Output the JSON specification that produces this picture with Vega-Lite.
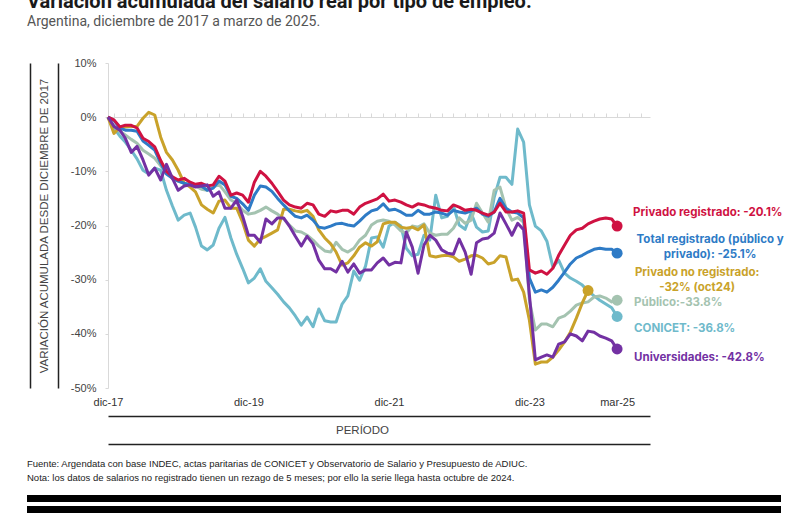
{
  "$schema": "https://vega.github.io/schema/vega-lite/v6.json",
  "autosize": {"type": "pad"},
  "padding": {"left": 27, "top": -8, "right": 0, "bottom": 0},
  "background": "white",
  "title": {
    "text": "Variación acumulada del salario real por tipo de empleo.",
    "subtitle": "Argentina, diciembre de 2017 a marzo de 2025.",
    "anchor": "start",
    "frame": "bounds",
    "font": "Roboto",
    "fontSize": 20,
    "fontWeight": "bold",
    "color": "#1a1a1a",
    "subtitleFont": "Roboto",
    "subtitleFontSize": 14,
    "subtitleColor": "#555555",
    "subtitlePadding": 3,
    "offset": 28
  },
  "config": {
    "font": "Liberation Sans",
    "view": {"stroke": null}
  },
  "spacing": 14,
  "vconcat": [
    {
      "width": 754,
      "height": 325,
      "data": {
        "values": [
          {"fecha":"2017-12-01","priv_reg":0,"total_reg":0,"priv_noreg":0,"publico":0,"conicet":0,"univ":0},
          {"fecha":"2018-01-01","priv_reg":-0.5,"total_reg":-0.6,"priv_noreg":-3,"publico":-1.7,"conicet":-2,"univ":-1.7},
          {"fecha":"2018-02-01","priv_reg":-1.8,"total_reg":-2,"priv_noreg":-1.8,"publico":-2.6,"conicet":-3.5,"univ":-2.4},
          {"fecha":"2018-03-01","priv_reg":-1.5,"total_reg":-2.4,"priv_noreg":-1.8,"publico":-3.3,"conicet":-4.6,"univ":-3.9},
          {"fecha":"2018-04-01","priv_reg":-1.5,"total_reg":-2.4,"priv_noreg":-1.7,"publico":-4.1,"conicet":-6.1,"univ":-6.5},
          {"fecha":"2018-05-01","priv_reg":-2,"total_reg":-2.6,"priv_noreg":-1.7,"publico":-4.8,"conicet":-7.7,"univ":-5.4},
          {"fecha":"2018-06-01","priv_reg":-3.9,"total_reg":-4.4,"priv_noreg":-0.2,"publico":-6.1,"conicet":-9.8,"univ":-7.9},
          {"fecha":"2018-07-01","priv_reg":-4.5,"total_reg":-5.2,"priv_noreg":0.9,"publico":-6.8,"conicet":-10.5,"univ":-10.7},
          {"fecha":"2018-08-01","priv_reg":-5.5,"total_reg":-6.1,"priv_noreg":0.4,"publico":-7.6,"conicet":-9.4,"univ":-9.4},
          {"fecha":"2018-09-01","priv_reg":-8,"total_reg":-8.5,"priv_noreg":-3.7,"publico":-9,"conicet":-9.8,"univ":-11.6},
          {"fecha":"2018-10-01","priv_reg":-10,"total_reg":-10.5,"priv_noreg":-6.5,"publico":-10.1,"conicet":-13.5,"univ":-8.7},
          {"fecha":"2018-11-01","priv_reg":-11,"total_reg":-11.3,"priv_noreg":-7.9,"publico":-11.3,"conicet":-16.4,"univ":-11.3},
          {"fecha":"2018-12-01","priv_reg":-11.6,"total_reg":-11.8,"priv_noreg":-9.8,"publico":-11.8,"conicet":-19,"univ":-13.5},
          {"fecha":"2019-01-01","priv_reg":-11.3,"total_reg":-12.2,"priv_noreg":-12.2,"publico":-12.2,"conicet":-18.1,"univ":-12.7},
          {"fecha":"2019-02-01","priv_reg":-12,"total_reg":-12.5,"priv_noreg":-12.9,"publico":-12.4,"conicet":-17.7,"univ":-12.5},
          {"fecha":"2019-03-01","priv_reg":-12.4,"total_reg":-12.7,"priv_noreg":-13.8,"publico":-12.7,"conicet":-20.3,"univ":-12.9},
          {"fecha":"2019-04-01","priv_reg":-12.2,"total_reg":-12.7,"priv_noreg":-16.2,"publico":-13.3,"conicet":-23.8,"univ":-12.7},
          {"fecha":"2019-05-01","priv_reg":-12.7,"total_reg":-13.5,"priv_noreg":-17,"publico":-13.5,"conicet":-24.5,"univ":-12.5},
          {"fecha":"2019-06-01","priv_reg":-12.5,"total_reg":-13.1,"priv_noreg":-17.7,"publico":-12.9,"conicet":-23.6,"univ":-14.6},
          {"fecha":"2019-07-01","priv_reg":-10.9,"total_reg":-11.8,"priv_noreg":-15.5,"publico":-12.4,"conicet":-20.5,"univ":-13.8},
          {"fecha":"2019-08-01","priv_reg":-11.8,"total_reg":-12.5,"priv_noreg":-15.3,"publico":-13.8,"conicet":-18.5,"univ":-16.8},
          {"fecha":"2019-09-01","priv_reg":-14.4,"total_reg":-14.6,"priv_noreg":-16.8,"publico":-15.3,"conicet":-22.3,"univ":-16.8},
          {"fecha":"2019-10-01","priv_reg":-14,"total_reg":-15,"priv_noreg":-16.8,"publico":-15.9,"conicet":-25.3,"univ":-15.3},
          {"fecha":"2019-11-01","priv_reg":-14.4,"total_reg":-16,"priv_noreg":-19.4,"publico":-17.2,"conicet":-27.9,"univ":-18.3},
          {"fecha":"2019-12-01","priv_reg":-15.7,"total_reg":-17.2,"priv_noreg":-22.7,"publico":-17.9,"conicet":-30.6,"univ":-21.8},
          {"fecha":"2020-01-01","priv_reg":-12,"total_reg":-14.4,"priv_noreg":-23.8,"publico":-17.7,"conicet":-29.7,"univ":-21.8},
          {"fecha":"2020-02-01","priv_reg":-10,"total_reg":-12.7,"priv_noreg":-22.5,"publico":-17.2,"conicet":-28,"univ":-23.1},
          {"fecha":"2020-03-01","priv_reg":-10.9,"total_reg":-12.9,"priv_noreg":-22,"publico":-16.6,"conicet":-30.3,"univ":-18.8},
          {"fecha":"2020-04-01","priv_reg":-12.2,"total_reg":-13.7,"priv_noreg":-21.4,"publico":-17.3,"conicet":-31.5,"univ":-19.7},
          {"fecha":"2020-05-01","priv_reg":-13.7,"total_reg":-15,"priv_noreg":-20.8,"publico":-17.9,"conicet":-32.7,"univ":-18.6},
          {"fecha":"2020-06-01","priv_reg":-15.3,"total_reg":-16.2,"priv_noreg":-17,"publico":-18.8,"conicet":-34.1,"univ":-18.6},
          {"fecha":"2020-07-01","priv_reg":-16.2,"total_reg":-17.3,"priv_noreg":-17,"publico":-19.9,"conicet":-35.2,"univ":-20.1},
          {"fecha":"2020-08-01","priv_reg":-16.6,"total_reg":-18.3,"priv_noreg":-17.3,"publico":-21,"conicet":-36.7,"univ":-22},
          {"fecha":"2020-09-01","priv_reg":-16.8,"total_reg":-18.6,"priv_noreg":-17.5,"publico":-21.2,"conicet":-38.4,"univ":-23.8},
          {"fecha":"2020-10-01","priv_reg":-15.9,"total_reg":-18.1,"priv_noreg":-17.2,"publico":-21.8,"conicet":-36.9,"univ":-22},
          {"fecha":"2020-11-01","priv_reg":-16.2,"total_reg":-19,"priv_noreg":-18.3,"publico":-22.7,"conicet":-38.7,"univ":-23.4},
          {"fecha":"2020-12-01","priv_reg":-17.9,"total_reg":-20.3,"priv_noreg":-20.8,"publico":-23.8,"conicet":-35.4,"univ":-26.4},
          {"fecha":"2021-01-01","priv_reg":-18.3,"total_reg":-20.5,"priv_noreg":-22.3,"publico":-24.7,"conicet":-37.6,"univ":-28},
          {"fecha":"2021-02-01","priv_reg":-17.3,"total_reg":-20.1,"priv_noreg":-23.4,"publico":-24.9,"conicet":-37.8,"univ":-28},
          {"fecha":"2021-03-01","priv_reg":-17.5,"total_reg":-19.7,"priv_noreg":-24.9,"publico":-23.1,"conicet":-37.8,"univ":-28.6},
          {"fecha":"2021-04-01","priv_reg":-17.2,"total_reg":-19.6,"priv_noreg":-27.3,"publico":-24.4,"conicet":-34.5,"univ":-26.6},
          {"fecha":"2021-05-01","priv_reg":-17.2,"total_reg":-19.9,"priv_noreg":-26.9,"publico":-24.9,"conicet":-33,"univ":-28.6},
          {"fecha":"2021-06-01","priv_reg":-17.9,"total_reg":-20.1,"priv_noreg":-25.6,"publico":-24.2,"conicet":-28.4,"univ":-27.1},
          {"fecha":"2021-07-01","priv_reg":-16.6,"total_reg":-19.2,"priv_noreg":-24,"publico":-22.7,"conicet":-30.1,"univ":-28.8},
          {"fecha":"2021-08-01","priv_reg":-15.9,"total_reg":-18.1,"priv_noreg":-23.2,"publico":-21.8,"conicet":-27.5,"univ":-28.2},
          {"fecha":"2021-09-01","priv_reg":-15.5,"total_reg":-17.3,"priv_noreg":-23.8,"publico":-19.9,"conicet":-22.3,"univ":-28.2},
          {"fecha":"2021-10-01","priv_reg":-15.1,"total_reg":-17,"priv_noreg":-23,"publico":-19.2,"conicet":-22.1,"univ":-26.9},
          {"fecha":"2021-11-01","priv_reg":-14.2,"total_reg":-16,"priv_noreg":-19.7,"publico":-19,"conicet":-24,"univ":-26},
          {"fecha":"2021-12-01","priv_reg":-15.5,"total_reg":-17.2,"priv_noreg":-19.4,"publico":-19.2,"conicet":-20.1,"univ":-27.3},
          {"fecha":"2022-01-01","priv_reg":-15.3,"total_reg":-17,"priv_noreg":-19.4,"publico":-19.9,"conicet":-19.4,"univ":-26.8},
          {"fecha":"2022-02-01","priv_reg":-15.7,"total_reg":-17.5,"priv_noreg":-20.3,"publico":-21,"conicet":-20.1,"univ":-26.9},
          {"fecha":"2022-03-01","priv_reg":-16.2,"total_reg":-18.1,"priv_noreg":-20.5,"publico":-21.4,"conicet":-24.2,"univ":-21.2},
          {"fecha":"2022-04-01","priv_reg":-16.6,"total_reg":-18.1,"priv_noreg":-20.3,"publico":-20.1,"conicet":-25.6,"univ":-24},
          {"fecha":"2022-05-01","priv_reg":-16,"total_reg":-17.2,"priv_noreg":-20.8,"publico":-20.3,"conicet":-25.3,"univ":-28.8},
          {"fecha":"2022-06-01","priv_reg":-16.2,"total_reg":-17.9,"priv_noreg":-19.9,"publico":-19.7,"conicet":-21.8,"univ":-23.6},
          {"fecha":"2022-07-01","priv_reg":-16.6,"total_reg":-17.9,"priv_noreg":-25.6,"publico":-21.4,"conicet":-22.7,"univ":-21.8},
          {"fecha":"2022-08-01","priv_reg":-16.8,"total_reg":-17.5,"priv_noreg":-25.8,"publico":-21.8,"conicet":-14.4,"univ":-22.7},
          {"fecha":"2022-09-01","priv_reg":-17.2,"total_reg":-17.7,"priv_noreg":-25.6,"publico":-21.6,"conicet":-18.6,"univ":-24.5},
          {"fecha":"2022-10-01","priv_reg":-17.3,"total_reg":-18.1,"priv_noreg":-25.5,"publico":-21.6,"conicet":-18.3,"univ":-25.1},
          {"fecha":"2022-11-01","priv_reg":-16.2,"total_reg":-17.2,"priv_noreg":-25.8,"publico":-20.5,"conicet":-16.4,"univ":-25.3},
          {"fecha":"2022-12-01","priv_reg":-16.6,"total_reg":-17.5,"priv_noreg":-26.6,"publico":-18.6,"conicet":-19.9,"univ":-22.5},
          {"fecha":"2023-01-01","priv_reg":-17.2,"total_reg":-17.7,"priv_noreg":-26.2,"publico":-19.6,"conicet":-20.7,"univ":-24.9},
          {"fecha":"2023-02-01","priv_reg":-17,"total_reg":-17.3,"priv_noreg":-25.6,"publico":-19,"conicet":-17.7,"univ":-29},
          {"fecha":"2023-03-01","priv_reg":-17.2,"total_reg":-16.8,"priv_noreg":-25.5,"publico":-15.9,"conicet":-20.3,"univ":-23.2},
          {"fecha":"2023-04-01","priv_reg":-17.7,"total_reg":-17.9,"priv_noreg":-26,"publico":-17.7,"conicet":-21.2,"univ":-22.5},
          {"fecha":"2023-05-01","priv_reg":-18.1,"total_reg":-18.3,"priv_noreg":-27.1,"publico":-19.4,"conicet":-21,"univ":-22.3},
          {"fecha":"2023-06-01","priv_reg":-17.5,"total_reg":-17.5,"priv_noreg":-26.8,"publico":-13.5,"conicet":-14.8,"univ":-21.4},
          {"fecha":"2023-07-01","priv_reg":-15.9,"total_reg":-15,"priv_noreg":-25.6,"publico":-12.9,"conicet":-11.1,"univ":-17.7},
          {"fecha":"2023-08-01","priv_reg":-17.5,"total_reg":-16.8,"priv_noreg":-25.8,"publico":-16.8,"conicet":-11.1,"univ":-19.7},
          {"fecha":"2023-09-01","priv_reg":-17.5,"total_reg":-17.5,"priv_noreg":-30.1,"publico":-19,"conicet":-12.4,"univ":-21.8},
          {"fecha":"2023-10-01","priv_reg":-17.3,"total_reg":-17.7,"priv_noreg":-29.9,"publico":-18.5,"conicet":-2.2,"univ":-19.6},
          {"fecha":"2023-11-01","priv_reg":-17.7,"total_reg":-18.6,"priv_noreg":-32.3,"publico":-19.4,"conicet":-4.6,"univ":-20.8},
          {"fecha":"2023-12-01","priv_reg":-28.2,"total_reg":-29.7,"priv_noreg":-37.5,"publico":-33.8,"conicet":-16.2,"univ":-32.8},
          {"fecha":"2024-01-01","priv_reg":-28.8,"total_reg":-32.3,"priv_noreg":-45.6,"publico":-39.3,"conicet":-20.1,"univ":-44.8},
          {"fecha":"2024-02-01","priv_reg":-28.4,"total_reg":-31.9,"priv_noreg":-45.2,"publico":-38.2,"conicet":-21,"univ":-44.3},
          {"fecha":"2024-03-01","priv_reg":-29,"total_reg":-32.3,"priv_noreg":-45.2,"publico":-38.2,"conicet":-22.9,"univ":-43.9},
          {"fecha":"2024-04-01","priv_reg":-27.9,"total_reg":-31.4,"priv_noreg":-44.3,"publico":-38.7,"conicet":-27.7,"univ":-44.3},
          {"fecha":"2024-05-01","priv_reg":-25.5,"total_reg":-30.1,"priv_noreg":-43,"publico":-37.1,"conicet":-26.4,"univ":-41.9},
          {"fecha":"2024-06-01","priv_reg":-23.6,"total_reg":-28.6,"priv_noreg":-41.5,"publico":-36.7,"conicet":-28.8,"univ":-41.5},
          {"fecha":"2024-07-01","priv_reg":-21.8,"total_reg":-27.1,"priv_noreg":-39.7,"publico":-35.8,"conicet":-29.7,"univ":-40},
          {"fecha":"2024-08-01","priv_reg":-20.8,"total_reg":-26,"priv_noreg":-37.1,"publico":-34.7,"conicet":-30.3,"univ":-40.4},
          {"fecha":"2024-09-01","priv_reg":-20.5,"total_reg":-25.5,"priv_noreg":-34.3,"publico":-34.3,"conicet":-31,"univ":-41.3},
          {"fecha":"2024-10-01","priv_reg":-19.7,"total_reg":-24.9,"priv_noreg":-32,"publico":-34.1,"conicet":-32.1,"univ":-39.5},
          {"fecha":"2024-11-01","priv_reg":-19.2,"total_reg":-24.4,"priv_noreg":null,"publico":-33.2,"conicet":-33,"univ":-39.7},
          {"fecha":"2024-12-01","priv_reg":-18.8,"total_reg":-24.2,"priv_noreg":null,"publico":-33,"conicet":-33.8,"univ":-40.4},
          {"fecha":"2025-01-01","priv_reg":-18.6,"total_reg":-24.4,"priv_noreg":null,"publico":-33.4,"conicet":-34.5,"univ":-40.8},
          {"fecha":"2025-02-01","priv_reg":-18.8,"total_reg":-24.4,"priv_noreg":null,"publico":-34.1,"conicet":-35.2,"univ":-41.3},
          {"fecha":"2025-03-01","priv_reg":-20.1,"total_reg":-25.1,"priv_noreg":null,"publico":-33.8,"conicet":-36.8,"univ":-42.8}
        ],
        "format": {"parse": {"fecha": "date"}}
      },
      "transform": [
        {"fold": ["conicet", "publico", "priv_noreg", "total_reg", "priv_reg", "univ"], "as": ["serie", "valor"]},
        {"filter": "isValid(datum.valor)"},
        {"joinaggregate": [{"op": "max", "field": "fecha", "as": "fmax"}], "groupby": ["serie"]}
      ],
      "layer": [
        {
          "mark": {"type": "line", "strokeWidth": 3, "strokeJoin": "round"},
          "encoding": {
            "x": {
              "field": "fecha", "type": "temporal",
              "scale": {"type": "utc", "range": [81, 623], "domain": [{"year": 2017, "month": 12, "date": 1, "utc": true}, {"year": 2025, "month": 8, "date": 19, "utc": true}]},
              "axis": {
                "values": [
                  {"year": 2017, "month": 12, "date": 1, "utc": true},
                  {"year": 2019, "month": 12, "date": 1, "utc": true},
                  {"year": 2021, "month": 12, "date": 1, "utc": true},
                  {"year": 2023, "month": 12, "date": 1, "utc": true},
                  {"year": 2025, "month": 3, "date": 1, "utc": true}
                ],
                "labelExpr": "['ene','feb','mar','abr','may','jun','jul','ago','sep','oct','nov','dic'][utcmonth(datum.value)] + '-' + utcFormat(datum.value, '%y')",
                "domain": false, "ticks": false, "grid": false, "labelFlush": false,
                "labelPadding": 8, "labelFont": "Liberation Sans", "labelFontSize": 11, "labelColor": "#333333",
                "title": "PERÍODO", "titleFont": "Liberation Sans", "titleFontSize": 11.5, "titleFontWeight": "normal", "titleColor": "#444444",
                "titleX": 335, "titleY": 42, "titleBaseline": "middle"
              }
            },
            "y": {
              "field": "valor", "type": "quantitative",
              "scale": {"domain": [-50, 10], "nice": false, "zero": false},
              "axis": {
                "offset": -81,
                "values": [10, 0, -10, -20, -30, -40, -50],
                "labelExpr": "datum.value + '%'",
                "domainColor": "#d9d9d9", "tickColor": "#d9d9d9", "tickSize": 3, "labelPadding": 9, "grid": false,
                "labelFont": "Liberation Sans", "labelFontSize": 11, "labelColor": "#444444",
                "title": "VARIACIÓN ACUMULADA DESDE DICIEMBRE DE 2017",
                "titleFont": "Liberation Sans", "titleFontSize": 11.5, "titleFontWeight": "normal", "titleColor": "#444444",
                "titleX": -64, "titleBaseline": "middle"
              }
            },
            "color": {
              "field": "serie", "type": "nominal", "legend": null,
              "scale": {"domain": ["priv_reg", "total_reg", "priv_noreg", "publico", "conicet", "univ"], "range": ["#cf1242", "#2e7bc6", "#c9a22a", "#a4c3b0", "#6fbacb", "#7331a3"]}
            }
          }
        },
        {
          "transform": [{"filter": "time(datum.fecha) == time(datum.fmax)"}],
          "mark": {"type": "circle", "size": 120, "opacity": 1},
          "encoding": {
            "x": {"field": "fecha", "type": "temporal", "scale": {"type": "utc"},
              "axis": {"orient": "top", "offset": -54, "domainColor": "#d9d9d9", "tickColor": "#d9d9d9", "tickSize": 4, "labels": false, "grid": false, "title": null, "tickCount": {"interval": "month", "step": 2}}},
            "y": {"field": "valor", "type": "quantitative",
              "axis": {"orient": "left", "offset": -31, "domainColor": "#222222", "domainWidth": 1.5, "labels": false, "ticks": false, "grid": false, "title": null}},
            "color": {"field": "serie", "type": "nominal", "legend": null}
          }
        },
        {
          "transform": [{"filter": "time(datum.fecha) == time(datum.fmax) && datum.serie == 'priv_reg'"}],
          "mark": {"type": "text", "text": "Privado registrado: -20.1%", "align": "left", "baseline": "middle", "dx": 16, "dy": -13, "font": "Inter", "fontSize": 11.5, "fontWeight": "bold"},
          "encoding": {
            "x": {"field": "fecha", "type": "temporal", "scale": {"type": "utc"},
              "axis": {"orient": "bottom", "offset": 28, "domainColor": "#222222", "domainWidth": 1.5, "labels": false, "ticks": false, "grid": false, "title": null}},
            "y": {"field": "valor", "type": "quantitative",
              "axis": {"orient": "left", "offset": -3, "domainColor": "#222222", "domainWidth": 1.5, "labels": false, "ticks": false, "grid": false, "title": null}},
            "color": {"field": "serie", "type": "nominal", "legend": null}
          }
        },
        {
          "transform": [{"filter": "time(datum.fecha) == time(datum.fmax) && datum.serie == 'total_reg'"}],
          "mark": {"type": "text", "text": "Total registrado (público y\nprivado): -25.1%", "lineBreak": "\n", "lineHeight": 15, "align": "center", "baseline": "middle", "dx": 93, "dy": -13, "font": "Inter", "fontSize": 11.5, "fontWeight": "bold"},
          "encoding": {
            "x": {"field": "fecha", "type": "temporal", "scale": {"type": "utc"},
              "axis": {"orient": "bottom", "offset": 56, "domainColor": "#222222", "domainWidth": 1.5, "labels": false, "ticks": false, "grid": false, "title": null}},
            "y": {"field": "valor", "type": "quantitative", "axis": null},
            "color": {"field": "serie", "type": "nominal", "legend": null}
          }
        },
        {
          "transform": [{"filter": "time(datum.fecha) == time(datum.fmax) && datum.serie == 'priv_noreg'"}],
          "mark": {"type": "text", "text": "Privado no registrado:\n-32% (oct24)", "lineBreak": "\n", "lineHeight": 15, "align": "center", "baseline": "middle", "dx": 109, "dy": -18, "font": "Inter", "fontSize": 11.5, "fontWeight": "bold"},
          "encoding": {
            "x": {"field": "fecha", "type": "temporal", "scale": {"type": "utc"}, "axis": null},
            "y": {"field": "valor", "type": "quantitative", "axis": null},
            "color": {"field": "serie", "type": "nominal", "legend": null}
          }
        },
        {
          "transform": [{"filter": "time(datum.fecha) == time(datum.fmax) && datum.serie == 'publico'"}],
          "mark": {"type": "text", "text": "Público:-33.8%", "align": "left", "baseline": "middle", "dx": 17, "dy": 3, "font": "Inter", "fontSize": 11.5, "fontWeight": "bold"},
          "encoding": {
            "x": {"field": "fecha", "type": "temporal", "scale": {"type": "utc"}, "axis": null},
            "y": {"field": "valor", "type": "quantitative", "axis": null},
            "color": {"field": "serie", "type": "nominal", "legend": null}
          }
        },
        {
          "transform": [{"filter": "time(datum.fecha) == time(datum.fmax) && datum.serie == 'conicet'"}],
          "mark": {"type": "text", "text": "CONICET: -36.8%", "align": "left", "baseline": "middle", "dx": 17, "dy": 12, "font": "Inter", "fontSize": 11.5, "fontWeight": "bold"},
          "encoding": {
            "x": {"field": "fecha", "type": "temporal", "scale": {"type": "utc"}, "axis": null},
            "y": {"field": "valor", "type": "quantitative", "axis": null},
            "color": {"field": "serie", "type": "nominal", "legend": null}
          }
        },
        {
          "transform": [{"filter": "time(datum.fecha) == time(datum.fmax) && datum.serie == 'univ'"}],
          "mark": {"type": "text", "text": "Universidades: -42.8%", "align": "left", "baseline": "middle", "dx": 17, "dy": 9, "font": "Inter", "fontSize": 11.5, "fontWeight": "bold"},
          "encoding": {
            "x": {"field": "fecha", "type": "temporal", "scale": {"type": "utc"}, "axis": null},
            "y": {"field": "valor", "type": "quantitative", "axis": null},
            "color": {"field": "serie", "type": "nominal", "legend": null}
          }
        }
      ],
      "resolve": {"axis": {"x": "independent", "y": "independent"}}
    },
    {
      "spacing": 4,
      "vconcat": [
        {
          "width": 754,
          "height": 7,
          "title": {
            "text": ["Fuente: Argendata con base INDEC, actas paritarias de CONICET y Observatorio de Salario y Presupuesto de ADIUC.", "Nota: los datos de salarios no registrado tienen un rezago de 5 meses; por ello la serie llega hasta octubre de 2024."],
            "anchor": "start", "frame": "group", "font": "Liberation Sans", "fontSize": 9.5, "fontWeight": "normal", "color": "#222222", "lineHeight": 14, "offset": 13
          },
          "data": {"values": [{}]},
          "mark": {"type": "text", "text": "", "fontSize": 1, "baseline": "top"},
          "view": {"fill": "#000000", "stroke": null}
        },
        {
          "width": 754,
          "height": 7,
          "data": {"values": [{}]},
          "mark": {"type": "text", "text": "", "fontSize": 1, "baseline": "top"},
          "view": {"fill": "#000000", "stroke": null}
        }
      ]
    }
  ]
}
